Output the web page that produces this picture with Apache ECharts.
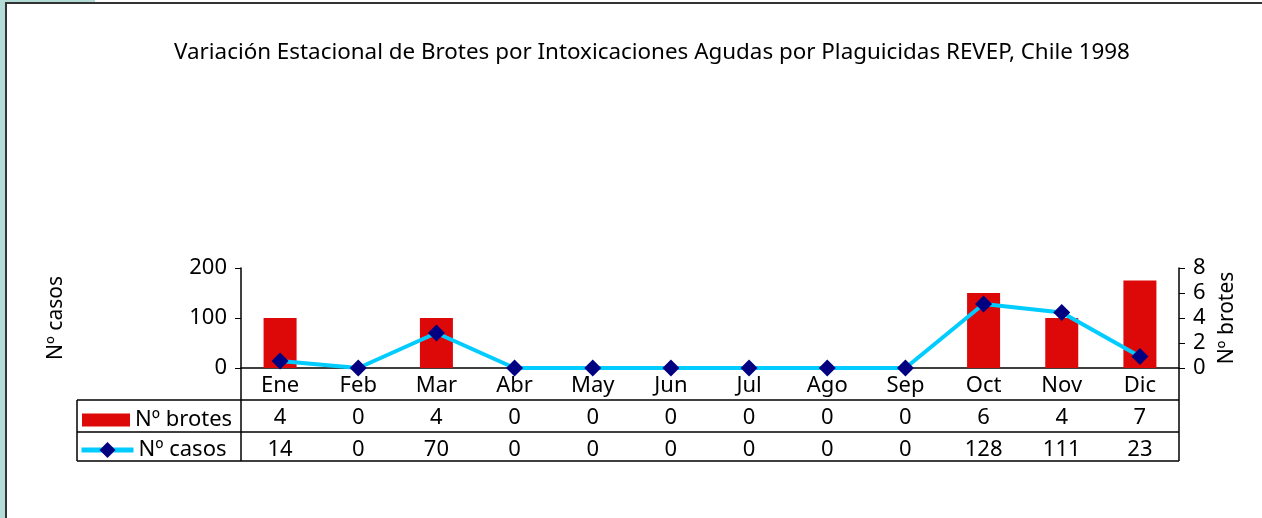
<!DOCTYPE html>
<html>
<head>
<meta charset="utf-8">
<script src="https://cdn.jsdelivr.net/npm/echarts@6/dist/echarts.min.js"></script>
<style>
  html, body { margin: 0; padding: 0; background: #fff; }
  #main { width: 1262px; height: 518px; }
</style>
</head>
<body>
<div id="main"></div>
<script>
// datos
const months = ['Ene', 'Feb', 'Mar', 'Abr', 'May', 'Jun', 'Jul', 'Ago', 'Sep', 'Oct', 'Nov', 'Dic']
const brotes = [4, 0, 4, 0, 0, 0, 0, 0, 0, 6, 4, 7]
const casos = [14, 0, 70, 0, 0, 0, 0, 0, 0, 128, 111, 23]
const casosTicks = [0, 100, 200]
const brotesTicks = [0, 2, 4, 6, 8]

const FONT = 'Noto Sans'
const lineCol = '#000'
const FS = 22

let myChart = echarts.init(document.getElementById('main'))

// eje de categorias extra para las filas de la tabla
const tableAxis = (values, offset) => ({
  type: 'category',
  data: months,
  position: 'bottom',
  offset: offset,
  axisLine: {show: false},
  axisTick: {show: false},
  axisLabel: {
    fontSize: FS, color: '#000', fontFamily: FONT, margin: 7,
    formatter: (v, i) => String(values[i])
  }
})

const legendText = {fontSize: FS, color: '#000', fontFamily: FONT}

let option = {
  backgroundColor: '#fff',
  animation: false,
  textStyle: {fontFamily: FONT},
  title: {
    text: 'Variación Estacional de Brotes por Intoxicaciones Agudas por Plaguicidas REVEP, Chile 1998',
    left: 169,
    top: 37,
    textStyle: {fontSize: 22.4, fontWeight: 'normal', color: '#000', fontFamily: FONT}
  },
  legend: [
    {
      data: ['Nº brotes'],
      left: 77,
      top: 404,
      icon: 'rect',
      itemWidth: 48,
      itemHeight: 13,
      itemGap: 0,
      textStyle: legendText
    },
    {
      data: ['Nº casos'],
      left: 74,
      top: 434,
      itemWidth: 52,
      itemHeight: 20,
      lineStyle: {width: 5, color: '#00ccff'},
      textStyle: legendText
    }
  ],
  grid: {left: 241, right: 83, top: 268, height: 100},
  xAxis: [
    {
      type: 'category',
      data: months,
      position: 'bottom',
      axisLine: {lineStyle: {color: lineCol, width: 1.5}},
      axisTick: {show: false},
      axisLabel: {fontSize: FS, color: '#000', fontFamily: FONT, margin: 7}
    },
    tableAxis(brotes, 32),
    tableAxis(casos, 64)
  ],
  yAxis: [
    {
      type: 'value',
      min: casosTicks[0],
      max: casosTicks[casosTicks.length - 1],
      interval: 100,
      name: 'Nº casos',
      nameLocation: 'middle',
      nameRotate: 90,
      nameGap: 174,
      nameTextStyle: {fontSize: 21, color: '#000', fontFamily: FONT},
      axisLine: {show: true, lineStyle: {color: lineCol, width: 1.5}},
      axisTick: {show: true, length: 6, lineStyle: {color: lineCol}},
      axisLabel: {fontSize: FS, color: '#000', fontFamily: FONT, margin: 14},
      splitLine: {show: false}
    },
    {
      type: 'value',
      position: 'right',
      min: brotesTicks[0],
      max: brotesTicks[brotesTicks.length - 1],
      interval: 2,
      name: 'Nº brotes',
      nameLocation: 'middle',
      nameRotate: 90,
      nameGap: 38,
      nameTextStyle: {fontSize: 21, color: '#000', fontFamily: FONT},
      axisLine: {show: true, lineStyle: {color: lineCol, width: 1.5}},
      axisTick: {show: true, length: 6, lineStyle: {color: lineCol}},
      axisLabel: {fontSize: FS, color: '#000', fontFamily: FONT, margin: 14},
      splitLine: {show: false}
    }
  ],
  series: [
    {
      name: 'Nº brotes',
      type: 'bar',
      xAxisIndex: 0,
      yAxisIndex: 1,
      data: brotes,
      barWidth: 33,
      itemStyle: {color: '#dd0808'}
    },
    {
      name: 'Nº casos',
      type: 'line',
      xAxisIndex: 0,
      yAxisIndex: 0,
      data: casos,
      symbol: 'diamond',
      symbolSize: 17,
      lineStyle: {color: '#00ccff', width: 4},
      itemStyle: {color: '#000080'},
      z: 5
    }
  ],
  // bordes de la tabla y marco
  graphic: [
    {type: 'rect', shape: {x: 0, y: 0, width: 5, height: 518}, style: {fill: '#b4dcd6'}, silent: true},
    {type: 'rect', shape: {x: 0, y: 0, width: 95, height: 3}, style: {fill: '#b4dcd6'}, silent: true},
    {type: 'rect', shape: {x: 5, y: 2, width: 1257, height: 2}, style: {fill: '#333'}, silent: true},
    {type: 'rect', shape: {x: 5, y: 2, width: 2, height: 516}, style: {fill: '#333'}, silent: true},
    {type: 'line', shape: {x1: 77, y1: 400, x2: 1179, y2: 400}, style: {stroke: lineCol, lineWidth: 1.5}, silent: true},
    {type: 'line', shape: {x1: 77, y1: 432, x2: 1179, y2: 432}, style: {stroke: lineCol, lineWidth: 1.5}, silent: true},
    {type: 'line', shape: {x1: 77, y1: 461, x2: 1179, y2: 461}, style: {stroke: lineCol, lineWidth: 1.5}, silent: true},
    {type: 'line', shape: {x1: 77, y1: 400, x2: 77, y2: 461}, style: {stroke: lineCol, lineWidth: 1.5}, silent: true},
    {type: 'line', shape: {x1: 241, y1: 368, x2: 241, y2: 461}, style: {stroke: lineCol, lineWidth: 1.5}, silent: true},
    {type: 'line', shape: {x1: 1179, y1: 368, x2: 1179, y2: 461}, style: {stroke: lineCol, lineWidth: 1.5}, silent: true}
  ]
}

myChart.setOption(option)
</script>
</body>
</html>
